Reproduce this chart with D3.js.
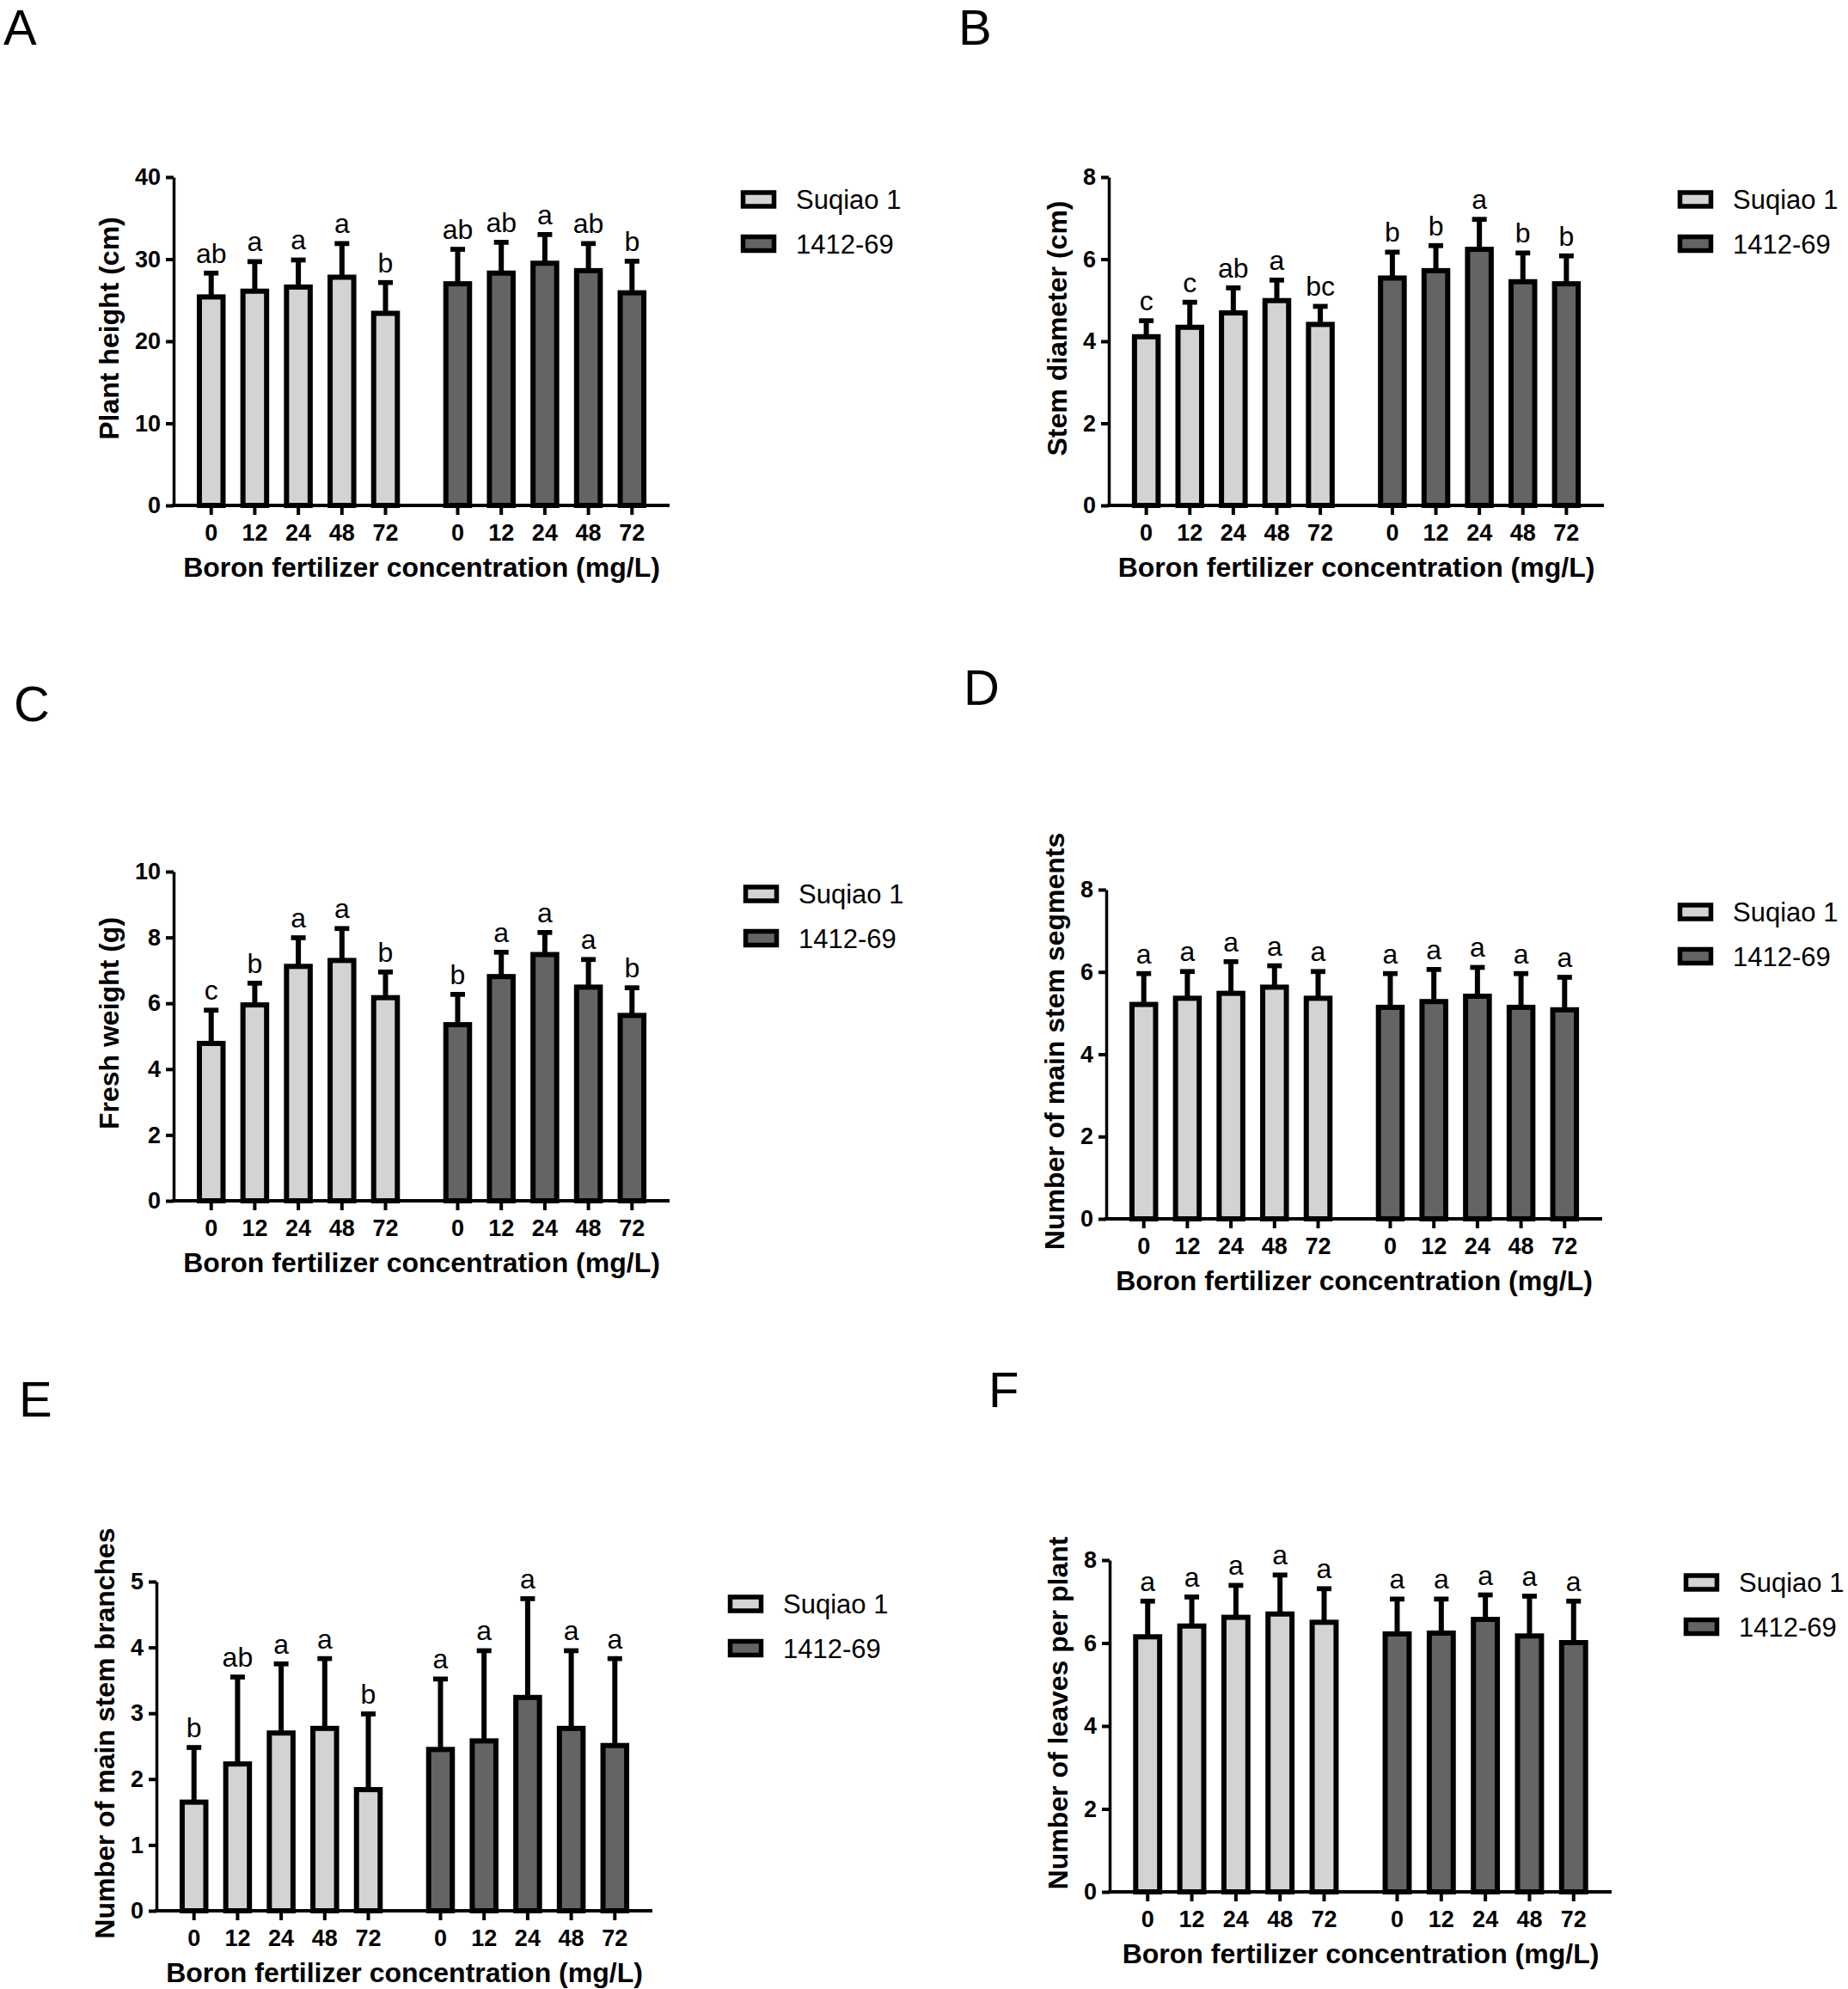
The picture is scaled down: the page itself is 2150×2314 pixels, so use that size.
<!DOCTYPE html>
<html>
<head>
<meta charset="utf-8">
<script src="https://cdnjs.cloudflare.com/ajax/libs/d3/7.8.5/d3.min.js"></script>
<style>
    body { margin: 0; background: #fff; }
</style>
</head>
<body>
<div id="fig"></div>
<script>
// x categories and the two varieties
var concentrations = ["0", "12", "24", "48", "72"];
var varieties = ["Suqiao 1", "1412-69"];

// A: plant height (cm)
var heightMean = [[25.4, 26.1, 26.6, 27.8, 23.4], [27.0, 28.3, 29.5, 28.6, 25.9]];
var heightSd = [[2.9, 3.6, 3.3, 4.1, 3.75], [4.2, 3.75, 3.5, 3.3, 3.85]];
var heightLetters = [["ab", "a", "a", "a", "b"], ["ab", "ab", "a", "ab", "b"]];

// B: stem diameter (cm)
var diameterMean = [[4.11, 4.34, 4.69, 4.99, 4.41], [5.54, 5.72, 6.24, 5.45, 5.40]];
var diameterSd = [[0.39, 0.61, 0.61, 0.50, 0.44], [0.63, 0.61, 0.73, 0.70, 0.68]];
var diameterLetters = [["c", "c", "ab", "a", "bc"], ["b", "b", "a", "b", "b"]];

// C: fresh weight (g)
var weightMean = [[4.78, 5.95, 7.12, 7.30, 6.17], [5.35, 6.81, 7.48, 6.49, 5.63]];
var weightSd = [[1.01, 0.66, 0.87, 0.97, 0.78], [0.92, 0.74, 0.67, 0.84, 0.84]];
var weightLetters = [["c", "b", "a", "a", "b"], ["b", "a", "a", "a", "b"]];

// D: number of main stem segments
var segmentMean = [[5.21, 5.36, 5.48, 5.63, 5.36], [5.14, 5.28, 5.41, 5.14, 5.08]];
var segmentSd = [[0.75, 0.65, 0.77, 0.52, 0.65], [0.82, 0.78, 0.70, 0.82, 0.79]];
var segmentLetters = [["a", "a", "a", "a", "a"], ["a", "a", "a", "a", "a"]];

// E: number of main stem branches
var branchMean = [[1.65, 2.23, 2.70, 2.77, 1.84], [2.45, 2.58, 3.24, 2.77, 2.51]];
var branchSd = [[0.83, 1.32, 1.05, 1.06, 1.15], [1.07, 1.37, 1.50, 1.18, 1.32]];
var branchLetters = [["b", "ab", "a", "a", "b"], ["a", "a", "a", "a", "a"]];

// F: number of leaves per plant
var leafMean = [[6.15, 6.41, 6.62, 6.70, 6.50], [6.22, 6.24, 6.57, 6.17, 6.01]];
var leafSd = [[0.86, 0.70, 0.77, 0.94, 0.81], [0.84, 0.82, 0.59, 0.96, 1.00]];
var leafLetters = [["a", "a", "a", "a", "a"], ["a", "a", "a", "a", "a"]];

// y axis tick values per panel
var heightTicks = [0, 10, 20, 30, 40];
var diameterTicks = [0, 2, 4, 6, 8];
var weightTicks = [0, 2, 4, 6, 8, 10];
var segmentTicks = [0, 2, 4, 6, 8];
var branchTicks = [0, 1, 2, 3, 4, 5];
var leafTicks = [0, 2, 4, 6, 8];

var xTitle = "Boron fertilizer concentration (mg/L)";

var panels = [
    {label: "A", title: "Plant height (cm)", mean: heightMean, sd: heightSd, letters: heightLetters, ticks: heightTicks},
    {label: "B", title: "Stem diameter (cm)", mean: diameterMean, sd: diameterSd, letters: diameterLetters, ticks: diameterTicks},
    {label: "C", title: "Fresh weight (g)", mean: weightMean, sd: weightSd, letters: weightLetters, ticks: weightTicks},
    {label: "D", title: "Number of main stem segments", mean: segmentMean, sd: segmentSd, letters: segmentLetters, ticks: segmentTicks},
    {label: "E", title: "Number of main stem branches", mean: branchMean, sd: branchSd, letters: branchLetters, ticks: branchTicks},
    {label: "F", title: "Number of leaves per plant", mean: leafMean, sd: leafSd, letters: leafLetters, ticks: leafTicks}
];

// where each panel sits on the page (y axis x, top, bottom, x axis length)
var layout = [
    {x: 202, top: 206, bottom: 588, len: 577, legendX: 660, letterX: 4, letterY: 52},
    {x: 1290, top: 206, bottom: 588, len: 576, legendX: 662, letterX: 1115, letterY: 52},
    {x: 202, top: 1014, bottom: 1397, len: 577, legendX: 663, letterX: 16, letterY: 839},
    {x: 1287, top: 1035, bottom: 1418, len: 577, legendX: 665, letterX: 1121, letterY: 820},
    {x: 182, top: 1840, bottom: 2223, len: 577, legendX: 665, letterX: 22, letterY: 1648},
    {x: 1291, top: 1815, bottom: 2201, len: 584, legendX: 668, letterX: 1150, letterY: 1637}
];

var fills = ["#d3d3d3", "#646464"];
var font = "'Liberation Sans', Arial, Helvetica, sans-serif";

function drawPanel(svg, p, box) {
    var h = box.bottom - box.top;
    var g = svg.append("g")
        .attr("transform", "translate(" + box.x + "," + box.top + ")");

    var yScale = d3.scaleLinear()
        .domain([0, d3.max(p.ticks)])
        .range([h, 0]);

    // outer band = variety, inner band = concentration
    var xGroup = d3.scaleBand()
        .domain(varieties)
        .range([0, box.len])
        .paddingInner(0.116)
        .paddingOuter(0.064);

    var xInner = d3.scaleBand()
        .domain(concentrations)
        .range([0, xGroup.bandwidth()])
        .paddingInner(0.457)
        .paddingOuter(0.2285);

    var rows = [];
    varieties.forEach(function(v, gi) {
        concentrations.forEach(function(c, ci) {
            rows.push({v: v, gi: gi, c: c, mean: p.mean[gi][ci], sd: p.sd[gi][ci], letter: p.letters[gi][ci]});
        });
    });

    function cx(d) {
        return xGroup(d.v) + xInner(d.c) + xInner.bandwidth() / 2;
    }

    // error bars (upper only)
    g.selectAll("line.err")
        .data(rows)
        .enter()
        .append("line")
        .attr("class", "err")
        .attr("x1", cx)
        .attr("x2", cx)
        .attr("y1", function(d) { return yScale(d.mean); })
        .attr("y2", function(d) { return yScale(d.mean + d.sd); })
        .attr("stroke", "#000")
        .attr("stroke-width", 6);

    g.selectAll("line.cap")
        .data(rows)
        .enter()
        .append("line")
        .attr("class", "cap")
        .attr("x1", function(d) { return cx(d) - 8.5; })
        .attr("x2", function(d) { return cx(d) + 8.5; })
        .attr("y1", function(d) { return yScale(d.mean + d.sd); })
        .attr("y2", function(d) { return yScale(d.mean + d.sd); })
        .attr("stroke", "#000")
        .attr("stroke-width", 5.7);

    // bars
    g.selectAll("rect.bar")
        .data(rows)
        .enter()
        .append("rect")
        .attr("class", "bar")
        .attr("x", function(d) { return xGroup(d.v) + xInner(d.c); })
        .attr("y", function(d) { return yScale(d.mean); })
        .attr("width", xInner.bandwidth())
        .attr("height", function(d) { return h - yScale(d.mean); })
        .attr("fill", function(d) { return fills[d.gi]; })
        .attr("stroke", "#000")
        .attr("stroke-width", 6);

    // significance letters
    g.selectAll("text.sig")
        .data(rows)
        .enter()
        .append("text")
        .attr("class", "sig")
        .attr("x", cx)
        .attr("y", function(d) { return yScale(d.mean + d.sd) - 12; })
        .attr("text-anchor", "middle")
        .attr("font-family", font)
        .attr("font-size", "32px")
        .attr("fill", "#000")
        .text(function(d) { return d.letter; });

    // y axis
    var yAxis = g.append("g")
        .call(d3.axisLeft(yScale)
            .tickValues(p.ticks)
            .tickFormat(d3.format("d"))
            .tickSize(9)
            .tickSizeOuter(0)
            .tickPadding(6));
    yAxis.select(".domain").attr("stroke-width", 3.5);
    yAxis.selectAll(".tick line").attr("stroke-width", 4);
    yAxis.selectAll(".tick text")
        .attr("font-family", font)
        .attr("font-weight", "bold")
        .attr("font-size", "27px")
        .attr("fill", "#000");

    // x axis: one line, ticks per variety group
    g.append("line")
        .attr("x1", -2)
        .attr("x2", box.len)
        .attr("y1", h)
        .attr("y2", h)
        .attr("stroke", "#000")
        .attr("stroke-width", 4);

    varieties.forEach(function(v) {
        var xa = g.append("g")
            .attr("transform", "translate(" + xGroup(v) + "," + h + ")")
            .call(d3.axisBottom(xInner).tickSize(11).tickSizeOuter(0).tickPadding(11));
        xa.select(".domain").remove();
        xa.selectAll(".tick line").attr("stroke-width", 4);
        xa.selectAll(".tick text")
            .attr("font-family", font)
            .attr("font-weight", "bold")
            .attr("font-size", "27px")
            .attr("fill", "#000");
    });

    g.append("text")
        .attr("x", box.len / 2)
        .attr("y", h + 83)
        .attr("text-anchor", "middle")
        .attr("font-family", font)
        .attr("font-weight", "bold")
        .attr("font-size", "32px")
        .text(xTitle);

    // y title sits left of the widest tick label
    var maxW = 0;
    yAxis.selectAll(".tick text").each(function() {
        maxW = Math.max(maxW, this.getComputedTextLength());
    });
    var titleX = -(15 + maxW + 30);
    g.append("text")
        .attr("transform", "translate(" + titleX + "," + (h / 2 - 15) + ") rotate(-90)")
        .attr("text-anchor", "middle")
        .attr("dy", "0.35em")
        .attr("font-family", font)
        .attr("font-weight", "bold")
        .attr("font-size", "32px")
        .text(p.title);

    // legend
    var legend = g.selectAll("g.legend")
        .data(varieties)
        .enter()
        .append("g")
        .attr("class", "legend")
        .attr("transform", function(d, i) {
            return "translate(" + box.legendX + "," + (26 + i * 51.5) + ")";
        });
    legend.append("rect")
        .attr("x", 2.5)
        .attr("y", -8)
        .attr("width", 36)
        .attr("height", 16)
        .attr("fill", function(d, i) { return fills[i]; })
        .attr("stroke", "#000")
        .attr("stroke-width", 5.5);
    legend.append("text")
        .attr("x", 64)
        .attr("y", 11)
        .attr("font-family", font)
        .attr("font-size", "31px")
        .attr("fill", "#000")
        .text(function(d) { return d; });

    // panel letter
    svg.append("text")
        .attr("x", box.letterX)
        .attr("y", box.letterY)
        .attr("font-family", font)
        .attr("font-size", "58px")
        .attr("fill", "#000")
        .text(p.label);
}

function init() {
    var w = 2150;
    var h = 2314;
    var svg = d3.select("#fig")
        .append("svg")
        .attr("width", w)
        .attr("height", h);

    svg.append("rect")
        .attr("width", w)
        .attr("height", h)
        .attr("fill", "#fff");

    panels.forEach(function(p, i) {
        drawPanel(svg, p, layout[i]);
    });
}

window.onload = init;
</script>
</body>
</html>
